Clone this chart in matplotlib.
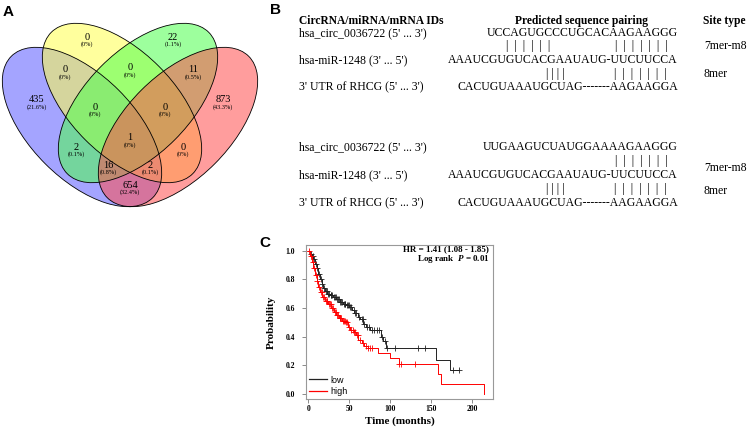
import numpy as np
import matplotlib
matplotlib.use("Agg")
import matplotlib.pyplot as plt
from matplotlib.patches import Ellipse
from matplotlib.lines import Line2D

plt.rcParams["mathtext.fontset"] = "custom"
plt.rcParams["mathtext.it"] = "Liberation Serif:bold:italic"
plt.rcParams["mathtext.rm"] = "Liberation Serif:bold"

# ---- data ----
venn_counts = [435, 0, 22, 873, 0, 0, 11, 0, 0, 2, 1, 0, 16, 2, 654]
venn_pcts = ["21.6%", "0%", "1.1%", "43.3%", "0%", "0%", "0.5%", "0%", "0%",
             "0.1%", "0%", "0%", "0.8%", "0.1%", "32.4%"]

pair_ids = ["hsa_circ_0036722 (5' ... 3')", "hsa-miR-1248 (3' ... 5')",
            "3' UTR of RHCG (5' ... 3')"]
seqs_1 = ["UCCAGUGCCCUGCACAAGAAGGG", "AAAUCGUGUCACGAAUAUG-UUCUUCCA",
          "CACUGUAAAUGCUAG-------AAGAAGGA"]
seqs_2 = ["UUGAAGUCUAUGGAAAAGAAGGG", "AAAUCGUGUCACGAAUAUG-UUCUUCCA",
          "CACUGUAAAUGCUAG-------AAGAAGGA"]
site_types = ["7mer-m8", "8mer"]

# KM steps (time in months, survival)
low_t = [0, 2, 4, 6, 8, 10, 12, 14, 16, 18, 20, 23, 26, 30, 34, 38, 42, 46, 50,
         53, 56, 60, 63, 67, 70, 75, 89, 91, 95, 156, 172]
low_s = [1.0, 0.98, 0.965, 0.94, 0.91, 0.88, 0.84, 0.80, 0.77, 0.74, 0.72, 0.70,
         0.69, 0.675, 0.66, 0.645, 0.63, 0.62, 0.605, 0.585, 0.565, 0.54, 0.52,
         0.49, 0.47, 0.45, 0.40, 0.37, 0.32, 0.24, 0.165]
low_end = 184
low_cens = [3, 5, 7, 9, 11, 13, 15, 17, 19, 21, 22, 24, 25, 27, 28, 29, 31, 32, 33,
            35, 36, 37, 39, 40, 41, 43, 44, 45, 47, 48, 49, 51, 52, 55, 57, 58, 62,
            65, 66, 68, 71, 74, 77, 80, 83, 86, 90, 93, 96, 106, 133, 142, 176, 183]

high_t = [0, 2, 4, 6, 8, 10, 12, 14, 17, 20, 24, 28, 31, 34, 37, 41, 45, 48, 51,
          55, 58, 61, 65, 68, 72, 85, 100, 110, 158, 162, 214]
high_s = [1.0, 0.96, 0.92, 0.88, 0.83, 0.79, 0.75, 0.71, 0.68, 0.65, 0.625, 0.60,
          0.57, 0.55, 0.53, 0.51, 0.50, 0.47, 0.45, 0.43, 0.41, 0.38, 0.355, 0.335,
          0.32, 0.285, 0.25, 0.21, 0.14, 0.068, 0.0]
high_end = 214
high_cens = [1, 3, 5, 7, 9, 11, 13, 15, 16, 18, 19, 21, 22, 23, 25, 26, 27, 29, 30,
             32, 33, 35, 36, 38, 39, 40, 42, 43, 44, 46, 47, 50, 52, 54, 56, 57, 59,
             60, 63, 66, 70, 73, 75, 77, 110, 113, 130]

# ---- figure ----
W, H = 753, 429
fig = plt.figure(figsize=(W / 100, H / 100), dpi=100)
ax = fig.add_axes([0, 0, 1, 1])
ax.set_xlim(0, W)
ax.set_ylim(H, 0)
ax.axis("off")

serif = "Liberation Serif"
sans = "Liberation Sans"

# panel A: Venn (pixel coords, y down)
ellipses = [((82, 127), 45, (0.35, 0.35, 1.0)),
            ((122, 103), 45, (1.0, 1.0, 0.3)),
            ((138, 103), -45, (0.3, 1.0, 0.3)),
            ((178, 127), -45, (1.0, 0.3, 0.3))]
for c, ang, col in ellipses:
    ax.add_patch(Ellipse(c, 200, 104, angle=ang, facecolor=col, alpha=0.55,
                         edgecolor="none"))
for c, ang, col in ellipses:
    ax.add_patch(Ellipse(c, 200, 104, angle=ang, facecolor="none",
                         edgecolor="black", lw=0.6))

label_pos = [(37, 100), (87, 37), (173, 37), (223, 100), (65, 70), (130, 68),
             (193, 70), (95, 107), (165, 107), (76, 147), (130, 138), (183, 147),
             (108, 165), (150, 165), (130, 185)]
for (x, y), n, p in zip(label_pos, venn_counts, venn_pcts):
    ax.text(x, y, str(n), ha="center", va="center", fontsize=7.5, family=serif)
    ax.text(x, y + 7, f"({p})", ha="center", va="center", fontsize=4.5,
            family=serif)

ax.text(8, 12, "A", ha="center", va="center", fontsize=11, weight="bold",
        family=sans)

# panel B: sequence pairing
ax.text(276, 10, "B", ha="center", va="center", fontsize=11, weight="bold",
        family=sans)
ax.text(299, 21, "CircRNA/miRNA/mRNA IDs", ha="left", va="center", fontsize=8.3,
        weight="bold", family=serif)
ax.text(582, 21, "Predicted sequence pairing", ha="center", va="center",
        fontsize=8.3, weight="bold", family=serif)
ax.text(703, 21, "Site type", ha="left", va="center", fontsize=8.3,
        weight="bold", family=serif)

seq_x = 678
fs = 8.5
blocks = [(seqs_1, [33, 60, 87], [46, 74], [46, 74]),
          (seqs_2, [147, 175, 203], [161, 189], [168, 191])]
for bi, (seqs, rows, bar_rows, site_rows) in enumerate(blocks):
    for lab, s, y in zip(pair_ids, seqs, rows):
        ax.text(299, y, lab, ha="left", va="center", fontsize=fs, family=serif)
        ax.text(seq_x, y, s, ha="right", va="center", fontsize=fs, family=serif)
    if bi == 0:
        ax.text(528, bar_rows[0], "|  |  |  |  |  |", ha="center", va="center",
                fontsize=fs, family=serif)
    ax.text(641, bar_rows[0], "|  |  |  |  |  |  |", ha="center", va="center",
            fontsize=fs, family=serif)
    ax.text(555, bar_rows[1], "| | | |", ha="center", va="center",
            fontsize=fs, family=serif)
    ax.text(640, bar_rows[1], "|  |  |  |  |  |  |", ha="center", va="center",
            fontsize=fs, family=serif)
    for st, y in zip(site_types, site_rows):
        ax.text(704, y, st, ha="left", va="center", fontsize=fs, family=serif)

# panel C: Kaplan-Meier
ax.text(265, 243, "C", ha="center", va="center", fontsize=11, weight="bold",
        family=sans)

km = fig.add_axes([306 / W, 1 - 399 / H, 187 / W, 154 / H])
for t, s, end, cens, col in [(low_t, low_s, low_end, low_cens, "#222222"),
                             (high_t, high_s, high_end, high_cens, "#ff0000")]:
    tt = np.append(t, end)
    ss = np.append(s, s[-1])
    km.step(tt, ss, where="post", color=col, lw=0.7)
    idx = np.searchsorted(t, cens, side="right") - 1
    km.plot(cens, np.array(s)[idx], ls="none", marker="+", ms=4, mew=0.6,
            color=col)

km.set_xlim(-3, 225)
km.set_ylim(-0.035, 1.04)
km.set_xticks([0, 50, 100, 150, 200])
km.set_yticks([0, 0.2, 0.4, 0.6, 0.8, 1.0])
km.set_yticklabels(["0.0", "0.2", "0.4", "0.6", "0.8", "1.0"])
for lab in km.get_xticklabels() + km.get_yticklabels():
    lab.set_family(serif)
    lab.set_fontsize(5.5)
    lab.set_weight("bold")
km.tick_params(axis="y", length=3, width=0.6, color="#777777", pad=5)
km.tick_params(axis="x", length=3, width=0.6, color="#777777", pad=1.5)
for sp in km.spines.values():
    sp.set_color("#999999")
    sp.set_linewidth(0.8)
km.set_ylabel("Probability", family=serif, fontsize=8, weight="bold",
              labelpad=7)
km.set_xlabel("Time (months)", family=serif, fontsize=8, weight="bold",
              labelpad=2)
km.text(0.98, 0.975, "HR = 1.41 (1.08 - 1.85)", transform=km.transAxes,
        ha="right", va="center", fontsize=6.5, weight="bold", family=serif)
km.text(0.98, 0.91, "Log rank  $P$ = 0.01", transform=km.transAxes,
        ha="right", va="center", fontsize=6.5, weight="bold", family=serif)
handles = [Line2D([], [], color="#222222", lw=0.9),
           Line2D([], [], color="#ff0000", lw=0.9)]
km.legend(handles, ["low", "high"], loc="lower left", frameon=False,
          prop={"family": sans, "size": 6.5}, handlelength=2.0,
          handletextpad=0.4, labelspacing=0.3, borderaxespad=0.1,
          borderpad=0.2)

fig.savefig("out.png", dpi=100)
